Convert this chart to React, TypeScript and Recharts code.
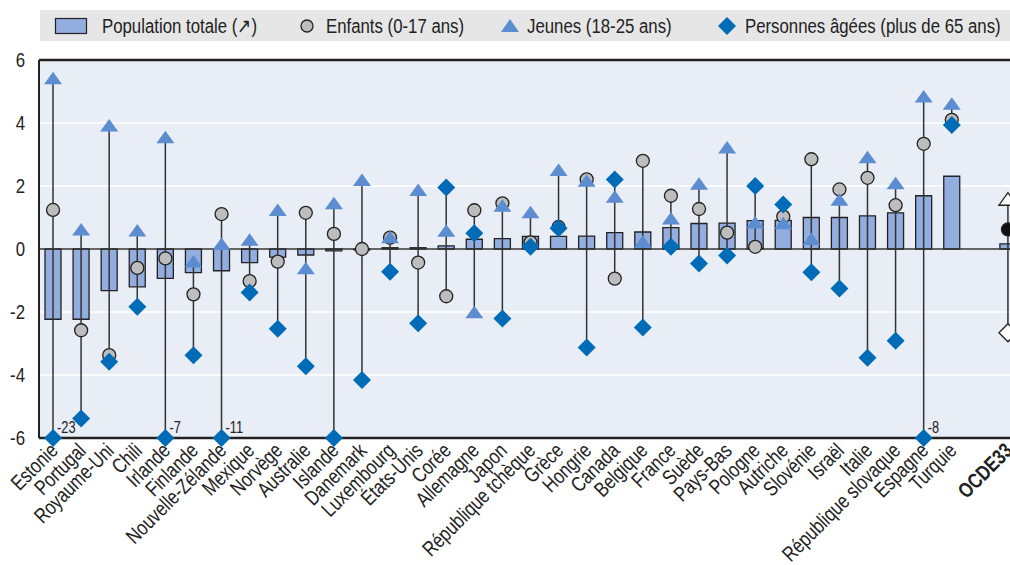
import React from 'react';
import { ComposedChart, Bar, Scatter, XAxis, YAxis, CartesianGrid, ReferenceLine } from 'recharts';

const categories = [
  'Estonie', 'Portugal', 'Royaume-Uni', 'Chili', 'Irlande', 'Finlande', 'Nouvelle-Zélande', 'Mexique',
  'Norvège', 'Australie', 'Islande', 'Danemark', 'Luxembourg', 'États-Unis', 'Corée', 'Allemagne', 'Japon',
  'République tchèque', 'Grèce', 'Hongrie', 'Canada', 'Belgique', 'France', 'Suède', 'Pays-Bas', 'Pologne',
  'Autriche', 'Slovénie', 'Israël', 'Italie', 'République slovaque', 'Espagne', 'Turquie', '', 'OCDE33',
];
const populationTotale = [
  -2.23, -2.23, -1.32, -1.2, -0.93, -0.75, -0.69, -0.43, -0.26, -0.19, -0.06, -0.03, 0.04, 0.04, 0.1, 0.31, 0.33,
  0.4, 0.4, 0.41, 0.52, 0.54, 0.68, 0.81, 0.82, 0.9, 0.91, 1.0, 1.0, 1.05, 1.15, 1.69, 2.31, null, 0.16,
];
const enfants = [
  1.24, -2.58, -3.37, -0.6, -0.3, -1.44, 1.11, -1.02, -0.4, 1.15, 0.48, 0.0, 0.36, -0.43, -1.5, 1.23, 1.45,
  0.21, 0.7, 2.21, -0.94, 2.8, 1.69, 1.27, 0.52, 0.07, 1.03, 2.85, 1.89, 2.26, 1.39, 3.34, 4.1, null, 0.62,
];
const jeunes = [
  5.42, 0.62, 3.92, 0.59, 3.55, -0.4, 0.16, 0.29, 1.24, -0.61, 1.45, 2.19, 0.37, 1.87, 0.58, -2.01, 1.37,
  1.17, 2.51, 2.17, 1.66, 0.23, 0.97, 2.07, 3.22, 0.84, 0.82, 0.32, 1.56, 2.91, 2.09, 4.84, 4.61, null, 1.58,
];
const personnesAgees = [
  -6, -5.38, -3.58, -1.83, -6, -3.37, -6, -1.38, -2.53, -3.72, -6, -4.16, -0.72, -2.36, 1.95, 0.5, -2.21,
  0.07, 0.66, -3.13, 2.21, -2.49, 0.07, -0.46, -0.21, 2.0, 1.41, -0.74, -1.25, -3.45, -2.91, -6, 3.94, null, -2.66,
];
const offScaleNotes: Record<string, string> = {
  Estonie: '-23',
  Irlande: '-7',
  'Nouvelle-Zélande': '-11',
  Espagne: '-8',
};
const yTicks = [-6, -4, -2, 0, 2, 4, 6];
const OECD = 'OCDE33';

const legendLabels = [
  'Population totale (↗)',
  'Enfants (0-17 ans)',
  'Jeunes (18-25 ans)',
  'Personnes âgées (plus de 65 ans)',
];

const FONT = "'Liberation Sans', Arial, sans-serif";
const NARROW = 0.8;
const C_BAR = '#93addf';
const C_TRI = '#5b8dd0';
const C_DIA = '#006bb6';
const C_CIR = '#bdbdbd';
const C_DARK = '#222';

const data = categories.map((name, i) => {
  const vals = [enfants[i], jeunes[i], personnesAgees[i]].filter((v) => v != null) as number[];
  return {
    name,
    total: populationTotale[i],
    enfants: enfants[i],
    jeunes: jeunes[i],
    agees: personnesAgees[i],
    range: vals.length ? [Math.min(...vals), Math.max(...vals)] : null,
    note: offScaleNotes[name],
  };
});
const gridTicks = categories.map((_, i) => i).concat([categories.length]);

const NText = ({ x, y, size = 21, anchor = 'start', rotate = 0, weight = 400, children }: any) => (
  <g transform={`translate(${x},${y}) rotate(${rotate}) scale(${NARROW},1)`}>
    <text x={0} y={0} textAnchor={anchor} fontSize={size} fontWeight={weight} fill={C_DARK} fontFamily={FONT}>
      {children}
    </text>
  </g>
);

const CircleShape = (p: any) => {
  if (!p.payload || p.payload.enfants == null || !isFinite(p.cy)) return null;
  const oecd = p.payload.name === OECD;
  return <circle cx={p.cx} cy={p.cy} r={6.5} fill={oecd ? '#111' : C_CIR} stroke={C_DARK} strokeWidth={1.3} />;
};

const TriangleShape = (p: any) => {
  if (!p.payload || p.payload.jeunes == null || !isFinite(p.cy)) return null;
  const oecd = p.payload.name === OECD;
  const { cx, cy } = p;
  return (
    <polygon
      points={`${cx},${cy - 6.5} ${cx + 9},${cy + 6} ${cx - 9},${cy + 6}`}
      fill={oecd ? '#fff' : C_TRI}
      stroke={oecd ? C_DARK : 'none'}
      strokeWidth={1.3}
    />
  );
};

const DiamondShape = (p: any) => {
  if (!p.payload || p.payload.agees == null || !isFinite(p.cy)) return null;
  const oecd = p.payload.name === OECD;
  const { cx, cy } = p;
  return (
    <g>
      <polygon
        points={`${cx},${cy - 9} ${cx + 9},${cy} ${cx},${cy + 9} ${cx - 9},${cy}`}
        fill={oecd ? '#fff' : C_DIA}
        stroke={oecd ? C_DARK : 'none'}
        strokeWidth={1.3}
      />
      {p.payload.note ? (
        <NText x={cx + 4} y={cy - 5} size={16}>
          {p.payload.note}
        </NText>
      ) : null}
    </g>
  );
};

const WhiskerShape = (p: any) => {
  const { x, y, width, height } = p;
  if (!p.payload || p.payload.range == null || !isFinite(y) || !isFinite(height)) return null;
  const cx = x + width / 2;
  return <line x1={cx} x2={cx} y1={y} y2={y + height} stroke="#333" strokeWidth={1.5} />;
};

const XTick = (p: any) => {
  const { x, y, payload } = p;
  if (!payload || !payload.value) return null;
  const bold = payload.value === OECD;
  return (
    <NText x={x + 6} y={y + 14} anchor="end" rotate={-45} weight={bold ? 700 : 400}>
      {payload.value}
    </NText>
  );
};

const YTick = (p: any) => {
  const { x, y, payload } = p;
  return (
    <NText x={x} y={y + 7} anchor="end">
      {String(payload.value)}
    </NText>
  );
};

const Legend = () => (
  <svg width={1010} height={45} style={{ position: 'absolute', left: 0, top: 0 }}>
    <rect x={40} y={10} width={970} height={31} fill="#e6e6e6" />
    <rect x={55.5} y={18.5} width={31} height={15} fill={C_BAR} stroke={C_DARK} strokeWidth={1.2} />
    <NText x={102} y={33}>{legendLabels[0]}</NText>
    <circle cx={307} cy={26} r={6} fill={C_CIR} stroke={C_DARK} strokeWidth={1.3} />
    <NText x={326} y={33}>{legendLabels[1]}</NText>
    <polygon points="510,19 519,32 501,32" fill={C_TRI} />
    <NText x={527} y={33}>{legendLabels[2]}</NText>
    <polygon points="727,17 736,26 727,35 718,26" fill={C_DIA} />
    <NText x={745} y={33}>{legendLabels[3]}</NText>
  </svg>
);

export default function App() {
  return (
    <div
      style={{
        position: 'absolute',
        left: 0,
        top: 0,
        width: 1010,
        height: 565,
        overflow: 'hidden',
        background: '#fff',
        fontFamily: FONT,
      }}
    >
      <Legend />
      <div style={{ position: 'absolute', left: 0, top: 0 }}>
        <ComposedChart
          width={1024}
          height={565}
          data={data}
          margin={{ top: 60, right: 2, bottom: 0, left: 0 }}
        >
          <XAxis
            xAxisId="g"
            type="number"
            domain={[0, categories.length]}
            ticks={gridTicks}
            allowDataOverflow
            height={0}
            mirror
            tick={false}
            tickSize={6}
            axisLine={false}
            tickLine={{ stroke: '#555', strokeWidth: 1.5 }}
          />
          <XAxis
            xAxisId="c"
            dataKey="name"
            type="category"
            interval={0}
            height={127}
            tickSize={0}
            tickMargin={0}
            tickLine={false}
            axisLine={{ stroke: C_DARK, strokeWidth: 2.5 }}
            tick={<XTick />}
          />
          <XAxis xAxisId="w" dataKey="name" type="category" hide />
          <YAxis
            type="number"
            domain={[-6, 6]}
            ticks={yTicks}
            width={39}
            tickSize={0}
            tickMargin={14}
            tickLine={false}
            axisLine={{ stroke: C_DARK, strokeWidth: 2 }}
            tick={<YTick />}
          />
          <CartesianGrid xAxisId="g" fill="#e8edf6" fillOpacity={1} stroke="#ffffff" strokeWidth={1.5} />
          <Bar
            xAxisId="c"
            dataKey="total"
            barSize={16}
            fill={C_BAR}
            stroke={C_DARK}
            strokeWidth={1.3}
            isAnimationActive={false}
          />
          <ReferenceLine xAxisId="c" y={0} stroke="#333" strokeWidth={1.5} />
          <Bar xAxisId="w" dataKey="range" barSize={2} shape={<WhiskerShape />} isAnimationActive={false} />
          <Scatter xAxisId="c" dataKey="enfants" shape={<CircleShape />} isAnimationActive={false} />
          <Scatter xAxisId="c" dataKey="jeunes" shape={<TriangleShape />} isAnimationActive={false} />
          <Scatter xAxisId="c" dataKey="agees" shape={<DiamondShape />} isAnimationActive={false} />
          <ReferenceLine xAxisId="c" y={6} stroke={C_DARK} strokeWidth={2.5} />
        </ComposedChart>
      </div>
    </div>
  );
}
